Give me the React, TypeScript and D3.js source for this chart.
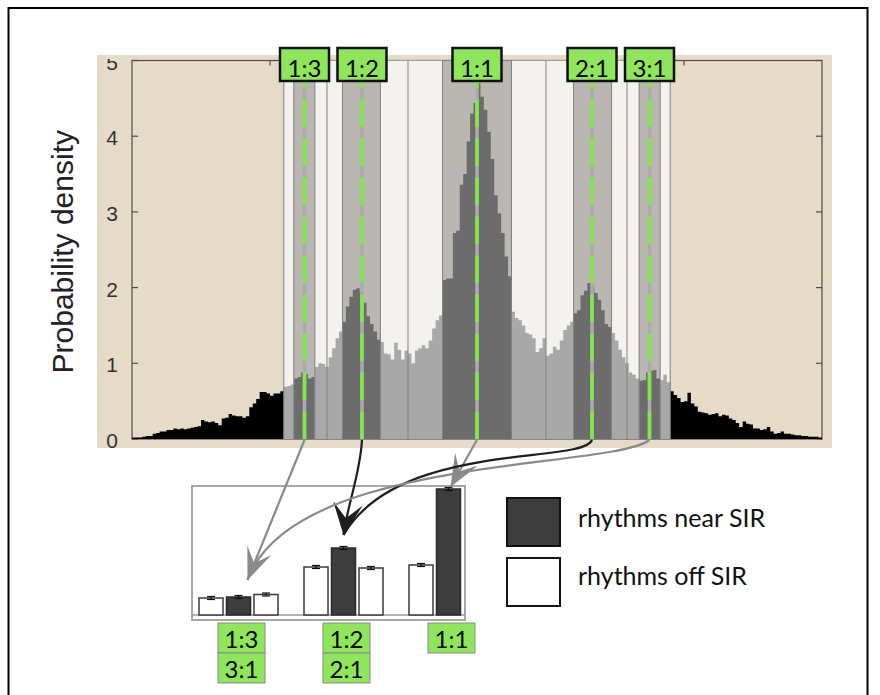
import { useEffect, useRef } from 'react';
import * as d3 from 'd3';

// Interval-ratio histogram: 200 bins of width 0.005 over [0, 1]
const binWidth = 0.005;
const density = [
  0.02, 0.02, 0.02, 0.03, 0.04, 0.04, 0.07, 0.08, 0.1, 0.1,
  0.12, 0.12, 0.14, 0.13, 0.14, 0.13, 0.14, 0.15, 0.16, 0.17,
  0.25, 0.23, 0.22, 0.23, 0.21, 0.18, 0.27, 0.28, 0.33, 0.31,
  0.3, 0.3, 0.28, 0.3, 0.42, 0.47, 0.53, 0.62, 0.62, 0.6,
  0.57, 0.6, 0.6, 0.63, 0.69, 0.7, 0.72, 0.8, 0.82, 0.88,
  0.86, 0.8, 0.82, 0.95, 1.0, 0.99, 0.95, 1.08, 1.2, 1.33,
  1.42, 1.55, 1.75, 1.88, 1.97, 1.99, 1.93, 1.8, 1.62, 1.52,
  1.42, 1.31, 1.28, 1.13, 1.12, 1.05, 1.27, 1.18, 1.05, 1.17,
  1.13, 1.0, 1.17, 1.2, 1.24, 1.2, 1.3, 1.46, 1.57, 1.63,
  2.1, 2.12, 2.12, 2.72, 2.75, 3.36, 3.5, 3.93, 4.3, 4.44,
  4.7, 4.52, 4.35, 4.06, 3.7, 3.22, 2.98, 2.72, 2.41, 2.15,
  1.68, 1.6, 1.57, 1.5, 1.4, 1.38, 1.33, 1.15, 1.2, 1.33,
  1.1, 1.13, 1.22, 1.18, 1.3, 1.44, 1.5, 1.55, 1.66, 1.7,
  1.9, 1.96, 2.06, 2.02, 1.93, 1.84, 1.7, 1.52, 1.48, 1.4,
  1.3, 1.18, 1.08, 1.0, 0.88, 0.85, 0.8, 0.77, 0.78, 0.88,
  0.9, 0.91, 0.8, 0.78, 0.85, 0.75, 0.63, 0.58, 0.54, 0.49,
  0.5, 0.61, 0.47, 0.43, 0.36, 0.35, 0.34, 0.32, 0.33, 0.34,
  0.3, 0.32, 0.31, 0.27, 0.25, 0.21, 0.16, 0.23, 0.2, 0.19,
  0.14, 0.14, 0.12, 0.13, 0.16, 0.1, 0.07, 0.08, 0.1, 0.07,
  0.07, 0.06, 0.05, 0.05, 0.04, 0.04, 0.03, 0.03, 0.03, 0.02,
];

// shaded bands: edges and whether each band is near or off a small-integer ratio
const bandEdges = [0.22, 0.2345, 0.265, 0.2826, 0.305, 0.36, 0.4, 0.45, 0.55, 0.6, 0.64, 0.695, 0.7174, 0.735, 0.7655, 0.78];
const bandKinds = ['off', 'near', 'off', 'off', 'near', 'off', 'off', 'near', 'off', 'off', 'near', 'off', 'off', 'near', 'off'];

const ratioLabels = ['1:3', '1:2', '1:1', '2:1', '3:1'];
const ratioValues = [0.25, 0.3333, 0.5, 0.6667, 0.75];
const ratioTargets = ['1:3', '1:2', '1:1', '1:2', '1:3'];

const yTickValues = [0, 1, 2, 3, 4, 5];
const xTickValues = [0.2, 0.4, 0.6, 0.8];

// inset bar chart
const insetGroups = ['1:3', '1:2', '1:1'];
const insetMirror = ['3:1', '2:1', ''];
const insetOffLow = [0.034, 0.096, 0.1];
const insetNear = [0.036, 0.134, 0.252];
const insetOffHigh = [0.041, 0.094, null];
const insetErr = [0.003, 0.003, 0.003];

const legendLabels = ['rhythms near SIR', 'rhythms off SIR'];

const AXIS_FONT = "'Liberation Sans', Arial, sans-serif";
const LABEL_FONT = "Lato, 'Open Sans', sans-serif";
const GREEN = '#8fe65a';

export default function App() {
  const svgRef = useRef<SVGSVGElement>(null);

  useEffect(() => {
    if (!svgRef.current) return;
    const svg = d3.select(svgRef.current);
    svg.selectAll('*').remove();

    const x = d3.scaleLinear().domain([0, 1]).range([132, 822]);
    const y = d3.scaleLinear().domain([0, 5]).range([439, 60.5]);

    const defs = svg.append('defs');

    // figure background (beige)
    svg.append('rect')
      .attr('x', 97).attr('y', 55).attr('width', 735).attr('height', 393)
      .attr('fill', '#e5dbc6');

    // axes box + ticks
    svg.append('rect')
      .attr('x', x(0)).attr('y', y(5)).attr('width', x(1) - x(0)).attr('height', y(0) - y(5))
      .attr('fill', 'none').attr('stroke', '#4d4d4d').attr('stroke-width', 1.2);
    yTickValues.forEach((t) => {
      svg.append('line').attr('x1', x(0)).attr('x2', x(0) + 6).attr('y1', y(t)).attr('y2', y(t))
        .attr('stroke', '#4d4d4d').attr('stroke-width', 1.2);
      svg.append('line').attr('x1', x(1)).attr('x2', x(1) - 6).attr('y1', y(t)).attr('y2', y(t))
        .attr('stroke', '#4d4d4d').attr('stroke-width', 1.2);
    });
    xTickValues.forEach((t) => {
      svg.append('line').attr('x1', x(t)).attr('x2', x(t)).attr('y1', y(5)).attr('y2', y(5) + 5)
        .attr('stroke', '#4d4d4d').attr('stroke-width', 1.2);
      svg.append('line').attr('x1', x(t)).attr('x2', x(t)).attr('y1', y(0)).attr('y2', y(0) - 5)
        .attr('stroke', '#4d4d4d').attr('stroke-width', 1.2);
    });

    // tick labels (top one is cut by the figure crop)
    defs.append('clipPath').attr('id', 'tick-clip')
      .append('rect').attr('x', 90).attr('y', 59).attr('width', 45).attr('height', 400);
    const tickG = svg.append('g').attr('clip-path', 'url(#tick-clip)');
    yTickValues.forEach((t) => {
      tickG.append('text')
        .attr('x', 118).attr('y', y(t) + 1.5)
        .attr('text-anchor', 'end').attr('dominant-baseline', 'central')
        .attr('font-family', AXIS_FONT).attr('font-size', 21).attr('fill', '#333')
        .text(t);
    });

    // histogram
    type Bin = { x0: number; v: number };
    const bins: Bin[] = density.map((v, i) => ({ x0: i * binWidth, v }));
    bins.push({ x0: 1, v: density[density.length - 1] });
    const area = d3.area<Bin>()
      .x((d) => x(d.x0))
      .y0(y(0))
      .y1((d) => y(d.v))
      .curve(d3.curveStepAfter);

    svg.append('path').attr('d', area(bins) as string).attr('fill', '#000');

    // bands
    bandKinds.forEach((kind, i) => {
      const x0 = x(bandEdges[i]);
      const x1 = x(bandEdges[i + 1]);
      defs.append('clipPath').attr('id', `band-${i}`)
        .append('rect').attr('x', x0).attr('y', y(5)).attr('width', x1 - x0).attr('height', y(0) - y(5));
      svg.append('rect')
        .attr('x', x0).attr('y', y(5)).attr('width', x1 - x0).attr('height', y(0) - y(5))
        .attr('fill', kind === 'near' ? '#bab6b2' : '#f4f2ee');
      svg.append('path')
        .attr('d', area(bins) as string)
        .attr('clip-path', `url(#band-${i})`)
        .attr('fill', kind === 'near' ? '#6c6c6c' : '#a8a8a8');
    });
    bandEdges.forEach((e) => {
      svg.append('line')
        .attr('x1', x(e)).attr('x2', x(e)).attr('y1', y(5)).attr('y2', y(0))
        .attr('stroke', '#808080').attr('stroke-width', 1);
    });

    // y axis title
    svg.append('text')
      .attr('transform', `translate(73,${(y(0) + y(5)) / 2 + 2}) rotate(-90)`)
      .attr('text-anchor', 'middle')
      .attr('font-family', AXIS_FONT).attr('font-size', 30).attr('fill', '#222')
      .text('Probability density');

    // ratio lines + labels
    ratioLabels.forEach((lab, i) => {
      const cx = x(ratioValues[i]);
      svg.append('line')
        .attr('x1', cx).attr('x2', cx).attr('y1', y(0)).attr('y2', y(5))
        .attr('stroke', '#ababab').attr('stroke-width', 3.5);
      svg.append('line')
        .attr('x1', cx).attr('x2', cx).attr('y1', y(0)).attr('y2', y(5))
        .attr('stroke', '#7fea46').attr('stroke-width', 3.5)
        .attr('stroke-dasharray', '27.5 11.5');
      svg.append('rect')
        .attr('x', cx - 24.5).attr('y', 48).attr('width', 49).attr('height', 33)
        .attr('fill', GREEN).attr('stroke', '#111').attr('stroke-width', 2.5);
      svg.append('text')
        .attr('x', cx).attr('y', 77)
        .attr('text-anchor', 'middle')
        .attr('font-family', LABEL_FONT).attr('font-size', 24).attr('fill', '#000')
        .text(lab);
    });

    // inset scales
    const groupX = d3.scaleBand<string>().domain(insetGroups).range([199, 514]);
    const slotX = d3.scaleBand<string>().domain(['low', 'near', 'high']).range([0, 79]).paddingInner(0.127);
    const insetY = d3.scaleLinear().domain([0, 0.26]).range([615, 485]);
    const nearCenter = (g: string) => (groupX(g) as number) + (slotX('near') as number) + slotX.bandwidth() / 2;

    // inset frame
    svg.append('rect')
      .attr('x', 192).attr('y', 486).attr('width', 273).attr('height', 134)
      .attr('fill', '#fff').attr('stroke', '#a6a6a6').attr('stroke-width', 2);
    svg.append('line')
      .attr('x1', 192).attr('x2', 465).attr('y1', insetY(0)).attr('y2', insetY(0))
      .attr('stroke', '#9a9a9a').attr('stroke-width', 1.5);

    insetGroups.forEach((g, j) => {
      const gx = groupX(g) as number;
      const slots: [string, number | null][] = [
        ['low', insetOffLow[j]],
        ['near', insetNear[j]],
        ['high', insetOffHigh[j]],
      ];
      slots.forEach(([s, v]) => {
        if (v == null) return;
        const bx = gx + (slotX(s) as number);
        const near = s === 'near';
        svg.append('rect')
          .attr('x', bx).attr('y', insetY(v))
          .attr('width', slotX.bandwidth()).attr('height', insetY(0) - insetY(v))
          .attr('fill', near ? '#3d3d3d' : '#fff')
          .attr('stroke', near ? '#2a2a2a' : '#3a3a3a').attr('stroke-width', 1.5);
        const ex = bx + slotX.bandwidth() / 2;
        const e = insetErr[j];
        const lo = v - e;
        const hi = v + e;
        svg.append('line').attr('x1', ex).attr('x2', ex).attr('y1', insetY(lo)).attr('y2', insetY(hi))
          .attr('stroke', '#111').attr('stroke-width', 1.2);
        [lo, hi].forEach((w) => {
          svg.append('line').attr('x1', ex - 4).attr('x2', ex + 4).attr('y1', insetY(w)).attr('y2', insetY(w))
            .attr('stroke', '#111').attr('stroke-width', 1.2);
        });
      });

      const lx = nearCenter(g) + 3;
      [g, insetMirror[j]].forEach((lab, k) => {
        if (!lab) return;
        svg.append('rect')
          .attr('x', lx - 23.5).attr('y', 623 + k * 30).attr('width', 47).attr('height', 30)
          .attr('fill', GREEN).attr('stroke', '#8a8a8a').attr('stroke-width', 1);
        svg.append('text')
          .attr('x', lx).attr('y', 648 + k * 30)
          .attr('text-anchor', 'middle')
          .attr('font-family', LABEL_FONT).attr('font-size', 24).attr('fill', '#000')
          .text(lab);
      });
    });

    // arrows from the ratio lines down to the inset bars
    const markers = [
      { id: 'head-grey', color: '#8a8a8a', path: 'M0,0 L-32,-13 L-18,0 L-32,13 Z' },
      { id: 'head-black', color: '#1e1e1e', path: 'M0,0 L-32,-15 L-17,0 L-32,15 Z' },
    ];
    markers.forEach((m) => {
      defs.append('marker')
        .attr('id', m.id)
        .attr('markerUnits', 'userSpaceOnUse')
        .attr('viewBox', '-36 -18 38 36')
        .attr('markerWidth', 38).attr('markerHeight', 36)
        .attr('refX', 0).attr('refY', 0)
        .attr('orient', 'auto')
        .append('path').attr('d', m.path).attr('fill', m.color);
    });

    const tipOffset: Record<string, [number, number]> = { '1:3': [9, -17], '1:2': [0, -13], '1:1': [2, -2] };
    const arrowColor = ['#8a8a8a', '#1e1e1e', '#8a8a8a', '#1e1e1e', '#8a8a8a'];
    const arrowHead = [true, true, true, false, false];
    const ctrl: [number, number, number, number][] = [
      [-12, 30, 14, -35],
      [-2, 35, 5, -35],
      [-6, 10, 8, -14],
      [-10, 25, 55, -95],
      [-40, 30, 45, -125],
    ];
    ratioValues.forEach((r, i) => {
      const g = ratioTargets[i];
      const j = insetGroups.indexOf(g);
      const sx = x(r);
      const sy = y(0) + 1;
      const ex = nearCenter(g) + tipOffset[g][0];
      const ey = insetY(insetNear[j]) + tipOffset[g][1];
      const c = ctrl[i];
      const p = d3.path();
      p.moveTo(sx, sy);
      p.bezierCurveTo(sx + c[0], sy + c[1], ex + c[2], ey + c[3], ex, ey);
      const el = svg.append('path')
        .attr('d', p.toString())
        .attr('fill', 'none')
        .attr('stroke', arrowColor[i])
        .attr('stroke-width', 2.2);
      if (arrowHead[i]) {
        el.attr('marker-end', `url(#${arrowColor[i] === '#1e1e1e' ? 'head-black' : 'head-grey'})`);
      }
    });

    // legend
    legendLabels.forEach((lab, k) => {
      svg.append('rect')
        .attr('x', 507).attr('y', 498 + k * 60).attr('width', 53).attr('height', 48)
        .attr('fill', k === 0 ? '#3d3d3d' : '#fff')
        .attr('stroke', '#111').attr('stroke-width', 2);
      svg.append('text')
        .attr('x', 578).attr('y', 527 + k * 58)
        .attr('font-family', LABEL_FONT).attr('font-size', 25).attr('fill', '#111')
        .text(lab);
    });

    // outer frame
    svg.append('rect')
      .attr('x', 8.5).attr('y', 8).attr('width', 859).attr('height', 720)
      .attr('fill', 'none').attr('stroke', '#000').attr('stroke-width', 2);
  }, []);

  return (
    <svg
      ref={svgRef}
      width={880}
      height={695}
      style={{ position: 'absolute', left: 0, top: 0, background: '#fff' }}
    />
  );
}
